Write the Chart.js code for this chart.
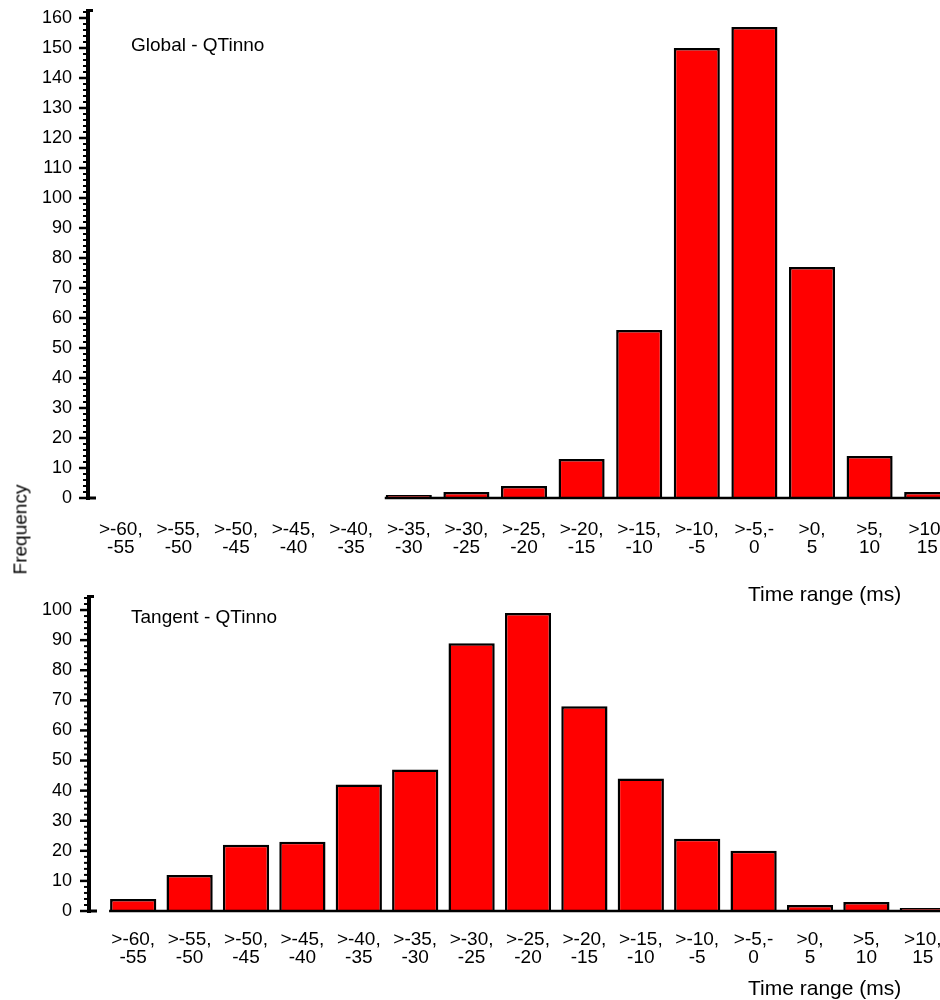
<!DOCTYPE html>
<html>
<head>
<meta charset="utf-8">
<script src="https://cdn.jsdelivr.net/npm/chart.js@4.4.1/dist/chart.umd.min.js"></script>
<style>
  html, body { margin: 0; padding: 0; background: #fff; overflow: hidden; }
  #wrap { position: relative; width: 960px; height: 1000px; font-family: "Liberation Sans", Arial, sans-serif; color: #000; }
  .box { position: absolute; left: 0; width: 960px; }
  .lbl { position: absolute; white-space: nowrap; line-height: 1; }
</style>
</head>
<body>
<div id="wrap">
  <div class="box" style="top:0;height:560px"><canvas id="globalChart"></canvas></div>
  <div class="box" style="top:580px;height:420px"><canvas id="tangentChart"></canvas></div>
  <div class="lbl" style="left:131px;top:35px;font-size:19px">Global - QTinno</div>
  <div class="lbl" style="left:131px;top:607px;font-size:19px">Tangent - QTinno</div>
  <div class="lbl" style="left:748px;top:583px;font-size:21px">Time range (ms)</div>
  <div class="lbl" style="left:748px;top:977px;font-size:21px">Time range (ms)</div>
  <div class="lbl" style="left:-27px;top:520px;font-size:19px;transform:rotate(-90deg);width:94px;text-align:center">Frequency</div>
</div>
<script>
const timeRanges = [
  ['>-60,', '-55'], ['>-55,', '-50'], ['>-50,', '-45'], ['>-45,', '-40'], ['>-40,', '-35'],
  ['>-35,', '-30'], ['>-30,', '-25'], ['>-25,', '-20'], ['>-20,', '-15'], ['>-15,', '-10'],
  ['>-10,', '-5'], ['>-5,-', '0'], ['>0,', '5'], ['>5,', '10'], ['>10,', '15']
];
const globalCounts = [0, 0, 0, 0, 0, 1, 2, 4, 13, 56, 150, 157, 77, 14, 2];
const tangentCounts = [4, 12, 22, 23, 42, 47, 89, 99, 68, 44, 24, 20, 2, 3, 1];
const globalTicks = [0, 10, 20, 30, 40, 50, 60, 70, 80, 90, 100, 110, 120, 130, 140, 150, 160];
const tangentTicks = [0, 10, 20, 30, 40, 50, 60, 70, 80, 90, 100];

// hand drawn looking axis: thick line, ruler ticks every 2, baseline under the bars
const rulerAxis = {
  id: 'rulerAxis',
  afterDatasetsDraw(chart, args, opts) {
    const ctx = chart.ctx;
    const y = chart.scales.y;
    const ax = opts.x;
    const top = y.getPixelForValue(y.max);
    const bottom = y.getPixelForValue(0);
    ctx.save();
    ctx.strokeStyle = '#000';
    ctx.lineCap = 'butt';
    ctx.lineWidth = 4;
    ctx.beginPath();
    ctx.moveTo(ax, top);
    ctx.lineTo(ax, bottom + 2);
    ctx.stroke();
    for (let v = 0; v <= y.max; v += 2) {
      const py = y.getPixelForValue(v);
      const major = v % 10 === 0;
      ctx.lineWidth = major ? 2.5 : 2;
      ctx.beginPath();
      ctx.moveTo(ax - (major ? 9 : 5), py);
      ctx.lineTo(ax, py);
      ctx.stroke();
    }
    ctx.lineWidth = 3;
    ctx.beginPath();
    ctx.moveTo(ax, top + 1.5);
    ctx.lineTo(ax + 5, top + 1.5);
    ctx.moveTo(ax, bottom);
    ctx.lineTo(ax + 8, bottom);
    ctx.stroke();
    // baseline starts at the first non-empty bar
    const meta = chart.getDatasetMeta(0);
    const values = chart.data.datasets[0].data;
    const first = values.findIndex(v => v > 0);
    const bar = meta.data[first];
    ctx.lineWidth = 2.5;
    ctx.beginPath();
    ctx.moveTo(bar.x - bar.width / 2 - 1, bottom);
    ctx.lineTo(chart.chartArea.right + 10, bottom);
    ctx.stroke();
    ctx.restore();
  }
};

function makeChart(id, counts, tickValues, cfg) {
  const ctx = document.getElementById(id).getContext('2d');
  return new Chart(ctx, {
    type: 'bar',
    data: {
      labels: timeRanges,
      datasets: [{
        data: counts,
        backgroundColor: '#ff0000',
        borderColor: '#000000',
        borderWidth: 2.5,
        borderSkipped: 'bottom',
        barPercentage: cfg.barPct,
        categoryPercentage: 1
      }]
    },
    options: {
      responsive: true,
      maintainAspectRatio: false,
      animation: false,
      layout: { padding: { top: cfg.padTop, right: cfg.padRight, left: 0, bottom: 0 } },
      plugins: {
        legend: { display: false },
        tooltip: { enabled: false },
        rulerAxis: { x: cfg.axisX }
      },
      scales: {
        x: {
          grid: { display: false, drawTicks: false },
          border: { display: false },
          ticks: {
            color: '#000',
            font: { family: '"Liberation Sans", Arial, sans-serif', size: 19, lineHeight: 0.95 },
            padding: cfg.xPad,
            maxRotation: 0,
            autoSkip: false
          },
          afterFit: s => {
            s.height = cfg.xHeight;
            s.paddingLeft = 0;
            s.paddingRight = 0;
          }
        },
        y: {
          min: 0,
          max: cfg.yMax,
          grid: { display: false, drawTicks: false },
          border: { display: false },
          ticks: {
            color: '#000',
            font: { family: '"Liberation Sans", Arial, sans-serif', size: 18 },
            padding: cfg.yPad
          },
          afterBuildTicks: s => { s.ticks = tickValues.map(v => ({ value: v })); },
          afterFit: s => {
            s.width = cfg.yWidth;
            s.paddingTop = 0;
            s.paddingBottom = 0;
          }
        }
      }
    },
    plugins: [rulerAxis]
  });
}

makeChart('globalChart', globalCounts, globalTicks, {
  yMax: 163, padTop: 9, padRight: 4, yWidth: 92, yPad: 20, axisX: 88,
  xHeight: 62, xPad: 23, barPct: 0.8
});

makeChart('tangentChart', tangentCounts, tangentTicks, {
  yMax: 105, padTop: 15, padRight: 9, yWidth: 105, yPad: 33, axisX: 89,
  xHeight: 89, xPad: 20, barPct: 0.82
});
</script>
</body>
</html>
